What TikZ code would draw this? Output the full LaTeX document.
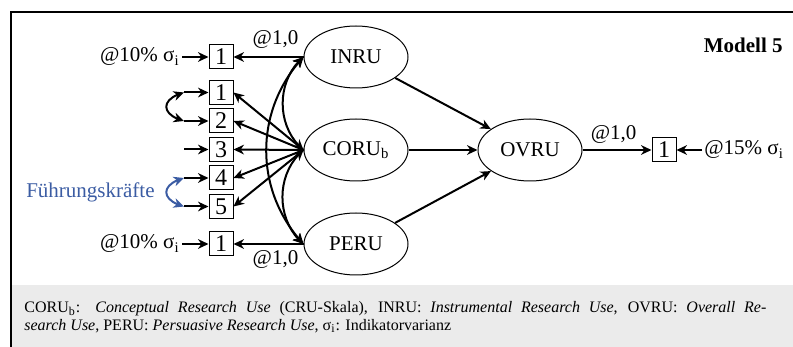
\documentclass[tikz,border=0pt]{standalone}
\usepackage{fontspec}
\setmainfont{Liberation Serif}
\usetikzlibrary{arrows.meta,shapes.geometric,bending}
\definecolor{leadblue}{RGB}{59,92,163}
\definecolor{notegray}{RGB}{235,235,235}

\begin{document}
\begin{tikzpicture}[x=0.5pt,y=-0.5pt,
  tip/.tip={Stealth[length=5.2pt,width=4.8pt,inset=1.6pt]},
  conn/.style={line width=1pt,-tip},
  cov/.style={line width=1pt,tip-tip},
  ind/.style={draw,line width=0.5pt,minimum size=12pt,inner sep=0pt,font=\fontsize{12}{12}\selectfont},
  lat/.style={draw,ellipse,line width=0.5pt,minimum width=52pt,minimum height=31pt,inner sep=0pt,font=\fontsize{10.5}{12}\selectfont},
  lbl/.style={font=\fontsize{10.5}{12}\selectfont,inner sep=1pt},
]
\useasboundingbox (0,0) rectangle (793,347);
% note area and frame
\fill[notegray] (12,285) rectangle (793,347);
\draw[line width=1pt] (11,347) -- (11,12) -- (793,12);

\node[lbl,anchor=east,font=\fontsize{10.5}{12}\selectfont\bfseries] (title) at (785,45) {Modell 5};

% latent variables
\node[lat] (inru) at (356,57) {INRU};
\node[lat] (coru) at (356,150) {CORU\textsubscript{b}};
\node[lat] (peru) at (356,244) {PERU};
\node[lat] (ovru) at (530,150) {OVRU};

% indicators
\node[ind] (b0) at (221,57) {1};
\node[ind] (b1) at (221,92.5) {1};
\node[ind] (b2) at (221,121) {2};
\node[ind] (b3) at (221,149.5) {3};
\node[ind] (b4) at (221,178) {4};
\node[ind] (b5) at (221,206.5) {5};
\node[ind] (b6) at (221,244) {1};
\node[ind] (b7) at (664,150) {1};

% residual variances
\node[lbl,anchor=east] (e0) at (182,57) {@10\% σ\textsubscript{i}};
\node[lbl,anchor=east] (e6) at (182,244) {@10\% σ\textsubscript{i}};
\node[lbl,anchor=west] (e7) at (702,150) {@15\% σ\textsubscript{i}};
\draw[conn] (e0.east) -- (b0.west);
\draw[conn] (e6.east) -- (b6.west);
\draw[conn] (e7.west) -- (b7.east);

\foreach \i/\y in {1/92.5,2/121,3/149.5,4/178,5/206.5}{
  \coordinate (l\i) at (184,\y);
  \draw[conn] (l\i) -- (b\i.west);
}
\draw[cov] (l1) to[out=195,in=165,looseness=2.2] (l2);
\draw[cov,leadblue] (l4) to[out=195,in=165,looseness=2.2] (l5);
\node[lbl,anchor=east,text=leadblue] (lead) at (157,192) {Führungskräfte};

% loadings
\draw[conn] (inru.west) -- node[lbl,pos=0.4,above=3pt] (w0) {@1,0} (b0.east);
\draw[conn] (peru.west) -- node[lbl,pos=0.4,below=2pt] (w6) {@1,0} (b6.east);
\foreach \i in {1,...,5}{
  \draw[conn] (coru.west) -- (b\i.east);
}

% covariances between the latent variables
\draw[cov] (inru.west) to[bend right=50] (coru.west);
\draw[cov] (coru.west) to[bend right=50] (peru.west);
\draw[cov] (inru.west) to[bend right=43] (peru.west);

% structural paths
\draw[conn] (inru) -- (ovru);
\draw[conn] (coru) -- (ovru);
\draw[conn] (peru) -- (ovru);
\draw[conn] (ovru) -- node[lbl,pos=0.45,above=2pt] (w7) {@1,0} (b7);

% legend
\node[anchor=north west,align=justify,text width=371pt,inner sep=0pt,font=\fontsize{8}{9}\selectfont] (note) at (24,301)
  {CORU\textsubscript{b}: \textit{Conceptual Research Use} (CRU-Skala), INRU: \textit{Instrumental Research Use}, OVRU: \textit{Overall Re-}\linebreak
   \textit{search Use}, PERU: \textit{Persuasive Research Use}, σ\textsubscript{i}: Indikatorvarianz};
\end{tikzpicture}
\end{document}
